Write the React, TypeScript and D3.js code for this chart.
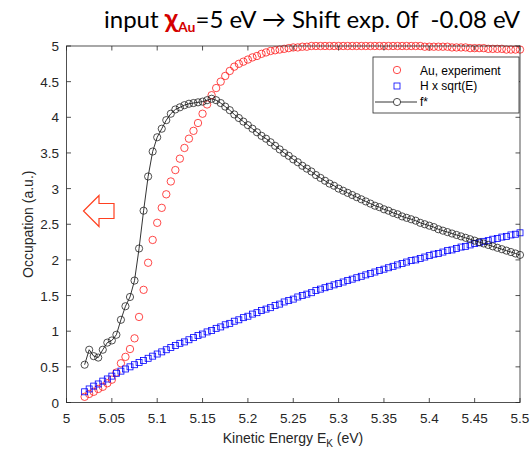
import React from "react";
import * as d3 from "d3";

const WIDTH = 532;
const HEIGHT = 449;
const MARGIN = { top: 46, right: 12, bottom: 46.5, left: 66.5 };

// Kinetic energy grid (eV)
const energy = [
  5.02, 5.025, 5.03, 5.035, 5.04, 5.045, 5.05, 5.055, 5.06, 5.065,
  5.07, 5.075, 5.08, 5.085, 5.09, 5.095, 5.1, 5.105, 5.11, 5.115,
  5.12, 5.125, 5.13, 5.135, 5.14, 5.145, 5.15, 5.155, 5.16, 5.165,
  5.17, 5.175, 5.18, 5.185, 5.19, 5.195, 5.2, 5.205, 5.21, 5.215,
  5.22, 5.225, 5.23, 5.235, 5.24, 5.245, 5.25, 5.255, 5.26, 5.265,
  5.27, 5.275, 5.28, 5.285, 5.29, 5.295, 5.3, 5.305, 5.31, 5.315,
  5.32, 5.325, 5.33, 5.335, 5.34, 5.345, 5.35, 5.355, 5.36, 5.365,
  5.37, 5.375, 5.38, 5.385, 5.39, 5.395, 5.4, 5.405, 5.41, 5.415,
  5.42, 5.425, 5.43, 5.435, 5.44, 5.445, 5.45, 5.455, 5.46, 5.465,
  5.47, 5.475, 5.48, 5.485, 5.49, 5.495, 5.5,
];

// Au, experiment
const auExperiment = [
  0.08, 0.12, 0.15, 0.19, 0.22, 0.27, 0.32, 0.42, 0.55, 0.64,
  0.75, 0.9, 1.2, 1.58, 1.96, 2.28, 2.52, 2.73, 2.92, 3.1,
  3.26, 3.42, 3.57, 3.7, 3.81, 3.92, 4.05, 4.18, 4.31, 4.41,
  4.5, 4.58, 4.65, 4.71, 4.75, 4.78, 4.81, 4.84, 4.86, 4.89,
  4.91, 4.93, 4.94, 4.95, 4.96, 4.97, 4.98, 4.98, 4.99, 4.99,
  5.0, 5.0, 5.0, 5.0, 5.0, 5.0, 5.0, 5.0, 5.0, 5.0,
  5.0, 5.0, 5.0, 5.0, 5.0, 5.0, 5.0, 5.0, 5.0, 5.0,
  5.0, 5.0, 5.0, 5.0, 5.0, 4.99, 4.99, 4.99, 4.99, 4.99,
  4.99, 4.98, 4.98, 4.98, 4.98, 4.97, 4.97, 4.97, 4.97, 4.96,
  4.96, 4.96, 4.96, 4.95, 4.95, 4.95, 4.95,
];

// H x sqrt(E)
const hSqrtE = [
  0.15, 0.19, 0.23, 0.26, 0.3, 0.33, 0.37, 0.41, 0.44, 0.47,
  0.5, 0.53, 0.56, 0.59, 0.62, 0.65, 0.68, 0.71, 0.74, 0.77,
  0.8, 0.83, 0.85, 0.88, 0.91, 0.94, 0.96, 0.99, 1.01, 1.04,
  1.06, 1.09, 1.11, 1.14, 1.16, 1.19, 1.21, 1.24, 1.26, 1.29,
  1.31, 1.33, 1.36, 1.38, 1.41, 1.43, 1.45, 1.48, 1.5, 1.52,
  1.54, 1.57, 1.59, 1.61, 1.63, 1.65, 1.67, 1.69, 1.71, 1.73,
  1.75, 1.77, 1.79, 1.81, 1.83, 1.85, 1.87, 1.89, 1.91, 1.93,
  1.95, 1.97, 1.99, 2.0, 2.02, 2.04, 2.06, 2.08, 2.09, 2.11,
  2.13, 2.14, 2.16, 2.18, 2.19, 2.21, 2.23, 2.24, 2.26, 2.27,
  2.29, 2.3, 2.32, 2.33, 2.35, 2.36, 2.38,
];

// f*
const fStar = [
  0.53, 0.74, 0.65, 0.63, 0.74, 0.84, 0.87, 0.95, 1.16, 1.35,
  1.48, 1.71, 2.16, 2.69, 3.17, 3.52, 3.72, 3.84, 3.96, 4.05,
  4.11, 4.14, 4.17, 4.19, 4.2, 4.21, 4.22, 4.24, 4.26, 4.24,
  4.2, 4.15, 4.1, 4.04, 3.99, 3.94, 3.89, 3.84, 3.79, 3.74,
  3.7, 3.65, 3.6, 3.55, 3.5, 3.46, 3.41, 3.37, 3.32, 3.28,
  3.24, 3.19, 3.15, 3.11, 3.07, 3.04, 3.0, 2.97, 2.94, 2.91,
  2.88, 2.85, 2.82, 2.79, 2.76, 2.74, 2.71, 2.69, 2.66, 2.64,
  2.61, 2.59, 2.57, 2.55, 2.52, 2.5, 2.48, 2.46, 2.43, 2.41,
  2.39, 2.37, 2.35, 2.33, 2.31, 2.29, 2.27, 2.25, 2.23, 2.21,
  2.19, 2.17, 2.15, 2.13, 2.11, 2.09, 2.07,
];

const xTicks = [5, 5.05, 5.1, 5.15, 5.2, 5.25, 5.3, 5.35, 5.4, 5.45, 5.5];
const xTickLabels = ["5", "5.05", "5.1", "5.15", "5.2", "5.25", "5.3", "5.35", "5.4", "5.45", "5.5"];
const yTicks = [0, 0.5, 1, 1.5, 2, 2.5, 3, 3.5, 4, 4.5, 5];
const yTickLabels = ["0", "0.5", "1", "1.5", "2", "2.5", "3", "3.5", "4", "4.5", "5"];

const legendLabels = ["Au, experiment", "H x sqrt(E)", "f*"];

const AXIS_COLOR = "#262626";
const FONT = "'Liberation Sans', Arial, sans-serif";

const App = () => {
  const left = MARGIN.left;
  const right = WIDTH - MARGIN.right;
  const top = MARGIN.top;
  const bottom = HEIGHT - MARGIN.bottom;

  const xScale = d3.scaleLinear().domain([5, 5.5]).range([left, right]);
  const yScale = d3.scaleLinear().domain([0, 5]).range([bottom, top]);

  const fLine = d3
    .line<number>()
    .x((_, i) => xScale(energy[i]))
    .y((d) => yScale(d))(fStar) || "";

  const tickLen = 4.5;

  // arrow outline (pointing left)
  const arrow = "M83.5,211 L99,195.5 L99,203.5 L114,203.5 L114,218.5 L99,218.5 L99,226.5 Z";

  return (
    <svg
      width={WIDTH}
      height={HEIGHT}
      style={{ position: "absolute", left: 0, top: 0, background: "#fff" }}
    >
      {/* title */}
      <text x={104} y={28} fontFamily="Lato, 'Open Sans', sans-serif" fontSize={24} fill="#000" xmlSpace="preserve">
        <tspan>input </tspan>
        <tspan fill="#d40000" fontWeight="bold" fontSize={27}>χ</tspan>
        <tspan fill="#d40000" fontWeight="bold" fontSize={14} dy={4}>Au</tspan>
        <tspan dy={-4}>=5 eV → Shift exp. 0f  -0.08 eV</tspan>
      </text>

      {/* data: Au experiment */}
      <g>
        {auExperiment.map((v, i) => (
          <circle
            key={"au" + i}
            cx={xScale(energy[i])}
            cy={yScale(v)}
            r={3.7}
            fill="none"
            stroke="#ff1a1a"
            strokeWidth={0.8}
          />
        ))}
      </g>

      {/* data: H x sqrt(E) */}
      <g>
        {hSqrtE.map((v, i) => (
          <rect
            key={"h" + i}
            x={xScale(energy[i]) - 3}
            y={yScale(v) - 3}
            width={6}
            height={6}
            fill="none"
            stroke="#0000ff"
            strokeWidth={0.8}
          />
        ))}
      </g>

      {/* data: f* */}
      <g>
        <path d={fLine} fill="none" stroke="#000" strokeWidth={0.8} />
        {fStar.map((v, i) => (
          <circle
            key={"f" + i}
            cx={xScale(energy[i])}
            cy={yScale(v)}
            r={3.6}
            fill="none"
            stroke="#222"
            strokeWidth={0.8}
          />
        ))}
      </g>

      {/* axes box */}
      <rect x={left} y={top} width={right - left} height={bottom - top} fill="none" stroke={AXIS_COLOR} strokeWidth={0.8} />

      {/* x ticks */}
      <g>
        {xTicks.map((t, i) => {
          const x = xScale(t);
          return (
            <g key={"xt" + i}>
              <line x1={x} x2={x} y1={bottom} y2={bottom - tickLen} stroke={AXIS_COLOR} strokeWidth={0.8} />
              <line x1={x} x2={x} y1={top} y2={top + tickLen} stroke={AXIS_COLOR} strokeWidth={0.8} />
              <text x={x} y={423} textAnchor="middle" fontFamily={FONT} fontSize={13.5} fill={AXIS_COLOR}>
                {xTickLabels[i]}
              </text>
            </g>
          );
        })}
      </g>

      {/* y ticks */}
      <g>
        {yTicks.map((t, i) => {
          const y = yScale(t);
          return (
            <g key={"yt" + i}>
              <line x1={left} x2={left + tickLen} y1={y} y2={y} stroke={AXIS_COLOR} strokeWidth={0.8} />
              <line x1={right} x2={right - tickLen} y1={y} y2={y} stroke={AXIS_COLOR} strokeWidth={0.8} />
              <text x={59} y={y + 5} textAnchor="end" fontFamily={FONT} fontSize={13.5} fill={AXIS_COLOR}>
                {yTickLabels[i]}
              </text>
            </g>
          );
        })}
      </g>

      {/* axis titles */}
      <text x={293} y={443} textAnchor="middle" fontFamily={FONT} fontSize={14} fill={AXIS_COLOR}>
        Kinetic Energy E
        <tspan fontSize={10} dy={4}>K</tspan>
        <tspan dy={-4}> (eV)</tspan>
      </text>
      <text
        transform={`translate(33,${(top + bottom) / 2}) rotate(-90)`}
        textAnchor="middle"
        fontFamily={FONT}
        fontSize={14}
        fill={AXIS_COLOR}
      >
        Occupation (a.u.)
      </text>

      {/* arrow */}
      <path d={arrow} fill="#fff" stroke="#ff4020" strokeWidth={1.2} />

      {/* legend */}
      <g>
        <rect x={373} y={57} width={146} height={56} fill="#fff" stroke={AXIS_COLOR} strokeWidth={0.8} />
        <circle cx={397} cy={70} r={3.7} fill="none" stroke="#ff1a1a" strokeWidth={0.8} />
        <rect x={394} y={83} width={6} height={6} fill="none" stroke="#0000ff" strokeWidth={0.8} />
        <line x1={375} x2={417} y1={102} y2={102} stroke="#000" strokeWidth={0.8} />
        <circle cx={397} cy={102} r={3.6} fill="#fff" stroke="#222" strokeWidth={0.8} />
        {legendLabels.map((l, i) => (
          <text key={"lg" + i} x={420} y={[74.5, 90, 106][i]} fontFamily={FONT} fontSize={12} fill="#000">
            {l}
          </text>
        ))}
      </g>
    </svg>
  );
};

export default App;
